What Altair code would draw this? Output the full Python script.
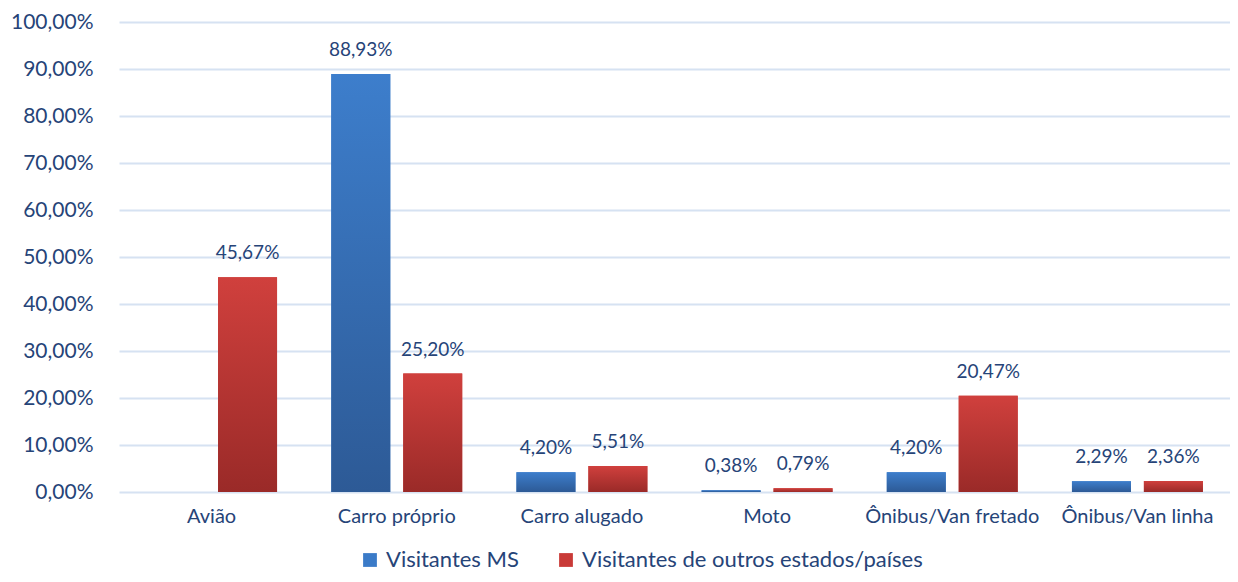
import altair as alt
import pandas as pd

categories = ["Avião", "Carro próprio", "Carro alugado", "Moto", "Ônibus/Van fretado", "Ônibus/Van linha"]
series = ["Visitantes MS", "Visitantes de outros estados/países"]
visitantes_ms = [None, 88.93, 4.20, 0.38, 4.20, 2.29]
visitantes_outros = [45.67, 25.20, 5.51, 0.79, 20.47, 2.36]
y_ticks = [0, 10, 20, 30, 40, 50, 60, 70, 80, 90, 100]

rows = []
for c, a, b in zip(categories, visitantes_ms, visitantes_outros):
    for s, v in ((series[0], a), (series[1], b)):
        if v is None:
            continue
        rows.append({"cat": c, "serie": s, "value": v,
                     "label": f"{v:.2f}".replace(".", ",") + "%"})
df = pd.DataFrame(rows)

TXT = "#264478"
FONT = "Lato"
BLUE = "#3B7BC8"
RED = "#C93A37"

blue_grad = alt.LinearGradient(
    gradient="linear", x1=0, x2=0, y1=0, y2=1,
    stops=[alt.GradientStop(offset=0, color="#3D7ECC"),
           alt.GradientStop(offset=1, color="#2D5A96")])
red_grad = alt.LinearGradient(
    gradient="linear", x1=0, x2=0, y1=0, y2=1,
    stops=[alt.GradientStop(offset=0, color="#D0403D"),
           alt.GradientStop(offset=1, color="#9A2A28")])

base = alt.Chart(df).encode(
    x=alt.X("cat:N", sort=categories,
            scale=alt.Scale(domain=categories, paddingInner=0, paddingOuter=0),
            axis=alt.Axis(title=None, labelAngle=0, domain=False, ticks=False,
                          labelPadding=14, labelFontSize=20, labelColor=TXT,
                          labelFont=FONT)),
    xOffset=alt.XOffset("serie:N", sort=series,
                        scale=alt.Scale(domain=series, paddingInner=0.18, paddingOuter=0.377)),
    y=alt.Y("value:Q", scale=alt.Scale(domain=[0, 100], nice=False),
            axis=alt.Axis(title=None, values=y_ticks, domain=False, ticks=False,
                          grid=True, gridColor="#D6E2F2", gridWidth=2,
                          labelPadding=26, labelFontSize=21, labelColor=TXT,
                          labelFont=FONT,
                          labelExpr="replace(format(datum.value, '.2f'), '.', ',') + '%'")),
)

legend_bars = base.mark_bar().encode(
    color=alt.Color("serie:N",
                    scale=alt.Scale(domain=series, range=[BLUE, RED]),
                    legend=alt.Legend(title=None, orient="none", direction="horizontal",
                                      legendX=240, legendY=527, symbolType="square",
                                      symbolSize=190, symbolStrokeWidth=0,
                                      labelFontSize=22, labelColor=TXT, labelFont=FONT,
                                      labelLimit=0, labelOffset=5, columnPadding=36,
                                      padding=0))
)

ms_bars = base.transform_filter(alt.datum.serie == series[0]).mark_bar(fill=blue_grad)
ot_bars = base.transform_filter(alt.datum.serie == series[1]).mark_bar(fill=red_grad)

labels = base.mark_text(dy=-24, fontSize=19, color=TXT, font=FONT).encode(text="label:N")

chart = alt.layer(legend_bars, ms_bars, ot_bars, labels).properties(
    width=1111, height=470,
    autosize=alt.AutoSizeParams(type="none"),
    padding={"left": 111, "top": 14, "right": 0, "bottom": 82},
).configure_view(stroke=None)

chart.save("out.html", embed_options={"renderer": "svg", "actions": False})
